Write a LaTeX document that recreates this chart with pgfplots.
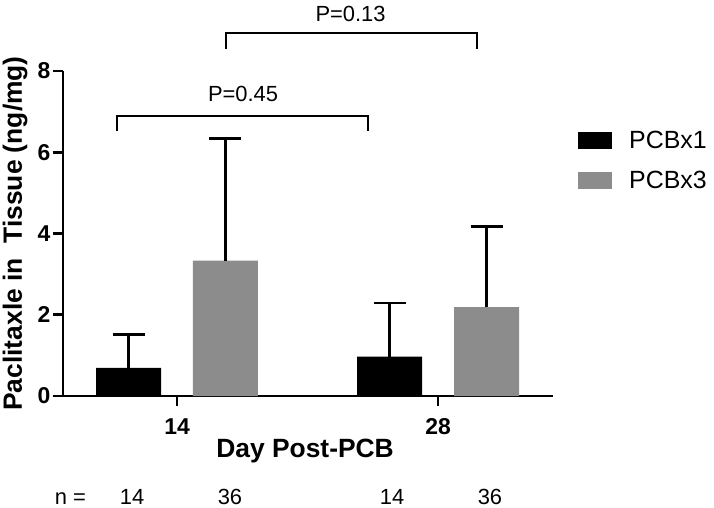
\documentclass[border=0pt]{standalone}
\usepackage{pgfplots}
\pgfplotsset{compat=1.18}
\usepackage{fontspec}
\setmainfont{Liberation Sans}
\definecolor{bargray}{RGB}{140,140,140}
\begin{document}
\begin{tikzpicture}
\useasboundingbox (-63bp,-112bp) rectangle (651bp,396bp);
\begin{axis}[
  at={(0,0)}, anchor=south west,
  width=490bp, height=325bp, scale only axis,
  xmin=-0.4368, xmax=1.4406, ymin=0, ymax=8,
  axis x line*=bottom, axis y line*=left,
  axis line style={line width=2.8bp, black},
  xtick={0,1}, xticklabels={14,28},
  ytick={0,2,4,6,8},
  tick align=outside, major tick length=10bp,
  tick style={line width=2.8bp, black},
  ticklabel style={font=\bfseries\fontsize{23}{23}\selectfont},
  xticklabel style={yshift=-9bp},
  yticklabel style={xshift=1bp},
  /pgf/number format/assume math mode=true,
  ylabel={Paclitaxle in\ \ Tissue (ng/mg)},
  ylabel style={font=\bfseries\fontsize{26.5}{26.5}\selectfont, at={(axis description cs:0,0.5)}, anchor=center, rotate=0, yshift=48bp},
  xlabel={Day Post-PCB},
  xlabel style={font=\bfseries\fontsize{26.5}{26.5}\selectfont, at={(axis description cs:0.494,0)}, anchor=base, yshift=-61bp},
  clip=false,
  legend style={at={(rel axis cs:1.051,0.822)}, anchor=north west, draw=none, fill=none,
    font=\fontsize{25}{25}\selectfont, row sep=17bp, inner sep=0pt},
  legend cell align=left,
]
\addplot[ybar, bar width=65bp, bar shift=0pt, fill=black, draw=none,
  error bars/y dir=plus, error bars/y explicit,
  error bars/error bar style={line width=2.8bp, black},
  error bars/error mark options={line width=2.8bp, black, mark size=16bp, rotate=90},
  legend image code/.code={\fill[black] (0bp,-8.5bp) rectangle (34bp,8.5bp); \path (49bp,0bp);}]
  coordinates {(-0.1858,0.69) +- (0,0.82) (0.8142,0.97) +- (0,1.32)};
\addlegendentry{PCBx1}
\addplot[ybar, bar width=65bp, bar shift=0pt, fill=bargray, draw=none,
  error bars/y dir=plus, error bars/y explicit,
  error bars/error bar style={line width=2.8bp, black},
  error bars/error mark options={line width=2.8bp, black, mark size=16bp, rotate=90},
  legend image code/.code={\fill[bargray] (0bp,-8.5bp) rectangle (34bp,8.5bp); \path (49bp,0bp);}]
  coordinates {(0.1858,3.33) +- (0,3.01) (1.1858,2.19) +- (0,1.99)};
\addlegendentry{PCBx3}
\draw[line width=1.3bp] (axis cs:-0.230,6.52) |- (axis cs:0.732,6.89) -- (axis cs:0.732,6.52);
\draw[line width=1.3bp] (axis cs:0.188,8.54) |- (axis cs:1.149,8.935) -- (axis cs:1.149,8.54);
\node[anchor=base, font=\fontsize{22}{22}\selectfont] at (axis cs:0.253,7.26) {P=0.45};
\node[anchor=base, font=\fontsize{22}{22}\selectfont] at (axis cs:0.665,9.23) {P=0.13};
\node[anchor=base, font=\fontsize{22}{22}\selectfont] at (axis cs:-0.408,-2.66) {n =};
\node[anchor=base, font=\fontsize{22}{22}\selectfont] at (axis cs:-0.172,-2.66) {14};
\node[anchor=base, font=\fontsize{22}{22}\selectfont] at (axis cs:0.203,-2.66) {36};
\node[anchor=base, font=\fontsize{22}{22}\selectfont] at (axis cs:0.824,-2.66) {14};
\node[anchor=base, font=\fontsize{22}{22}\selectfont] at (axis cs:1.199,-2.66) {36};
\end{axis}
\end{tikzpicture}
\end{document}
